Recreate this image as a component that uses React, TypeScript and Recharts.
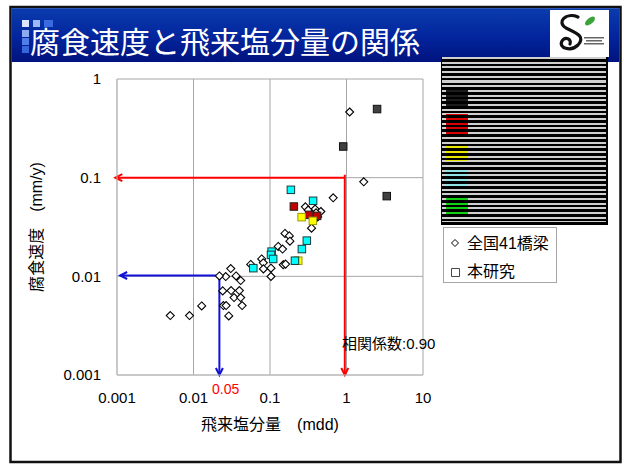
import React from 'react';
import { ScatterChart, Scatter, XAxis, YAxis, CartesianGrid, ReferenceLine, Legend } from 'recharts';

const titleText = '腐食速度と飛来塩分量の関係';
const xAxisTitle = '飛来塩分量　(mdd)';
const yAxisTitle = '腐食速度　(mm/y)';
const xTicks = [0.001, 0.01, 0.1, 1, 10];
const yTicks = [0.001, 0.01, 0.1, 1];
const legendLabels = ['全国41橋梁', '本研究'];
const correlationText = '相関係数:0.90';
const markText = '0.05';

// 全国41橋梁 (diamonds)
const nationalBridges = [
  { x: 1.1, y: 0.463 }, { x: 1.68, y: 0.0908 }, { x: 0.67, y: 0.0625 }, { x: 0.29, y: 0.0507 },
  { x: 0.389, y: 0.048 }, { x: 0.462, y: 0.0454 }, { x: 0.315, y: 0.0469 }, { x: 0.4, y: 0.044 },
  { x: 0.36, y: 0.042 }, { x: 0.42, y: 0.04 }, { x: 0.349, y: 0.0308 }, { x: 0.157, y: 0.0272 },
  { x: 0.179, y: 0.0257 }, { x: 0.182, y: 0.0227 }, { x: 0.128, y: 0.0201 }, { x: 0.146, y: 0.0189 },
  { x: 0.0778, y: 0.015 }, { x: 0.0818, y: 0.0137 }, { x: 0.056, y: 0.0132 }, { x: 0.082, y: 0.0119 },
  { x: 0.103, y: 0.0121 }, { x: 0.103, y: 0.00996 }, { x: 0.149, y: 0.0131 }, { x: 0.16, y: 0.0133 },
  { x: 0.0307, y: 0.012 }, { x: 0.0264, y: 0.00995 }, { x: 0.0218, y: 0.0101 }, { x: 0.036, y: 0.0101 },
  { x: 0.0414, y: 0.00906 }, { x: 0.0241, y: 0.00712 }, { x: 0.031, y: 0.00718 }, { x: 0.0398, y: 0.00718 },
  { x: 0.0339, y: 0.0061 }, { x: 0.0414, y: 0.0061 }, { x: 0.0246, y: 0.00506 }, { x: 0.0267, y: 0.00506 },
  { x: 0.0432, y: 0.00506 }, { x: 0.0289, y: 0.00397 }, { x: 0.0128, y: 0.00501 }, { x: 0.00887, y: 0.004 },
  { x: 0.00497, y: 0.004 },
];

// 本研究 (squares)
const studyDark = [{ x: 2.51, y: 0.496 }, { x: 0.906, y: 0.207 }, { x: 3.36, y: 0.065 }];
const studyRed = [{ x: 0.205, y: 0.051 }, { x: 0.325, y: 0.042 }, { x: 0.413, y: 0.041 }];
const studyYellow = [{ x: 0.259, y: 0.0398 }, { x: 0.363, y: 0.0365 }, { x: 0.234, y: 0.0144 }];
const studyCyan = [
  { x: 0.1875, y: 0.0753 }, { x: 0.366, y: 0.0583 }, { x: 0.303, y: 0.023 }, { x: 0.261, y: 0.0189 },
  { x: 0.105, y: 0.0178 }, { x: 0.103, y: 0.0165 }, { x: 0.11, y: 0.015 }, { x: 0.212, y: 0.0144 },
  { x: 0.0605, y: 0.0121 },
];

// arrows
const redVertical = [{ x: 0.95, y: 0.107 }, { x: 0.95, y: 0.001 }];
const redHorizontal = [{ x: 0.95, y: 0.1 }, { x: 0.00095, y: 0.1 }];
const blueVertical = [{ x: 0.0218, y: 0.0102 }, { x: 0.0218, y: 0.001 }];
const blueHorizontal = [{ x: 0.0218, y: 0.0102 }, { x: 0.0011, y: 0.0102 }];

const swatches = [
  { color: '#1c1c1c', top: 33, h: 18 },
  { color: '#d80000', top: 57, h: 21 },
  { color: '#e6e600', top: 87, h: 17 },
  { color: '#8ee4e4', top: 111, h: 20 },
  { color: '#12d012', top: 138, h: 19 },
];

const FONT = '"Liberation Sans", "Noto Sans CJK JP", sans-serif';
const stripe = (c: string) =>
  `repeating-linear-gradient(to bottom, ${c} 0px, ${c} 2px, #000 2px, #000 4.7px)`;

const Diamond = (props: any) => {
  const { cx, cy } = props;
  if (cx == null || cy == null) return null;
  const r = 4;
  return (
    <polygon
      points={`${cx},${cy - r} ${cx + r},${cy} ${cx},${cy + r} ${cx - r},${cy}`}
      fill="#fff"
      stroke="#000"
      strokeWidth={1.1}
    />
  );
};

const makeSquare = (fill: string, stroke: string) => (props: any) => {
  const { cx, cy } = props;
  if (cx == null || cy == null) return null;
  const s = 7.5;
  return <rect x={cx - s / 2} y={cy - s / 2} width={s} height={s} fill={fill} stroke={stroke} strokeWidth={1} />;
};

const arrowShape = (color: string) => (props: any) => {
  const x1 = Number(props.x1), y1 = Number(props.y1), x2 = Number(props.x2), y2 = Number(props.y2);
  if (![x1, y1, x2, y2].every((v) => isFinite(v))) return null;
  const dx = x2 - x1, dy = y2 - y1;
  const len = Math.hypot(dx, dy) || 1;
  const ux = dx / len, uy = dy / len;
  const back = 7, half = 3.5;
  const bx = x2 - ux * back, by = y2 - uy * back;
  const px = -uy, py = ux;
  return (
    <g>
      <line x1={x1} y1={y1} x2={x2} y2={y2} stroke={color} strokeWidth={2} />
      <polyline
        points={`${bx + px * half},${by + py * half} ${x2},${y2} ${bx - px * half},${by - py * half}`}
        fill="none"
        stroke={color}
        strokeWidth={2}
      />
    </g>
  );
};

const XLabel = (props: any) => {
  const vb = props.viewBox || { x: 117, y: 375, width: 306, height: 30 };
  return (
    <text x={vb.x + vb.width / 2} y={vb.y + vb.height + 25} textAnchor="middle" fontSize={16} fontFamily={FONT} fill="#000">
      {xAxisTitle}
    </text>
  );
};

const YLabel = (props: any) => {
  const vb = props.viewBox || { x: 57, y: 79, width: 60, height: 296 };
  const cx = vb.x - 21;
  const cy = vb.y + vb.height / 2;
  return (
    <text
      x={cx}
      y={cy}
      transform={`rotate(-90 ${cx} ${cy})`}
      textAnchor="middle"
      dominantBaseline="central"
      fontSize={16}
      fontFamily={FONT}
      fill="#000"
    >
      {yAxisTitle}
    </text>
  );
};

const LegendBox = () => (
  <div
    style={{
      width: 114,
      height: 56,
      boxSizing: 'border-box',
      border: '1px solid #a6a6a6',
      background: '#fff',
      fontFamily: FONT,
      fontSize: 16,
      color: '#000',
      position: 'relative',
    }}
  >
    <svg width={114} height={56} style={{ position: 'absolute', left: -1, top: -1 }}>
      <polygon points="12,12.5 15.5,16 12,19.5 8.5,16" fill="#fff" stroke="#000" strokeWidth={1} />
      <path d="M8.5 41.5 H16.5 V49.5 H8.5 Z" fill="#ffffff" stroke="#333" strokeWidth={0.9} />
    </svg>
    <div style={{ position: 'absolute', left: 23, top: 6, lineHeight: '20px', whiteSpace: 'nowrap' }}>{legendLabels[0]}</div>
    <div style={{ position: 'absolute', left: 23, top: 34, lineHeight: '20px', whiteSpace: 'nowrap' }}>{legendLabels[1]}</div>
  </div>
);

export default function App() {
  return (
    <div style={{ position: 'absolute', left: 0, top: 0, width: 624, height: 464, background: '#fff', overflow: 'hidden' }}>
      <svg width={624} height={464} style={{ position: 'absolute', left: 0, top: 0 }}>
        <defs>
          <linearGradient id="hdr" x1="0" y1="0" x2="0" y2="1">
            <stop offset="0%" stopColor="#0a3cae" />
            <stop offset="55%" stopColor="#03249c" />
            <stop offset="100%" stopColor="#00137e" />
          </linearGradient>
        </defs>
        <rect x={10.5} y={7} width={610} height={455} fill="#fff" stroke="#111" strokeWidth={2.5} />
        <rect x={11.7} y={8.2} width={607.6} height={53.8} fill="url(#hdr)" />
        <rect x={550} y={10} width={59} height={47} fill="#fff" />
        <path d="M578 17 C566 12 556 22 566 28 C576 33 586 36 578 45 C571 52 558 48 562 41 C565 36 572 39 570 44"
          fill="none" stroke="#111" strokeWidth={3.2} strokeLinecap="round" />
        <ellipse cx={590} cy={21} rx={6} ry={3} transform="rotate(-40 590 21)" fill="#3aa33a" />
        <rect x={584} y={37} width={20} height={1.5} fill="#666" />
        <rect x={586} y={40} width={16} height={1.5} fill="#666" />
        <rect x={584} y={43} width={20} height={1.5} fill="#666" />
        <rect x={22} y={20} width={7} height={7} fill="#dce6ff" />
        <rect x={33} y={20} width={7} height={7} fill="#9fb7f2" />
        <rect x={44} y={20} width={9} height={7} fill="#3a6ae0" />
        <rect x={22} y={30} width={7} height={7} fill="#8eaaf0" />
        <rect x={22} y={38} width={7} height={7} fill="#4f7fe6" />
        <rect x={22} y={46} width={7} height={7} fill="#3566dc" />
        <text x={30} y={53} fontSize={30} fill="#fff" fontFamily='"Noto Sans CJK JP", sans-serif'>
          {titleText}
        </text>
      </svg>

      <div style={{ position: 'absolute', left: 0, top: 0 }}>
        <ScatterChart width={624} height={464} margin={{ top: 79, right: 201, bottom: 59, left: 57 }}>
          <CartesianGrid stroke="#a6a6a6" strokeWidth={1} />
          <XAxis
            type="number"
            dataKey="x"
            scale="log"
            domain={[0.001, 10]}
            ticks={xTicks}
            interval={0}
            allowDataOverflow
            height={30}
            tickSize={0}
            tickMargin={17}
            tickLine={false}
            axisLine={{ stroke: '#bfbfbf' }}
            tick={{ fill: '#000', fontSize: 15, fontFamily: FONT }}
            label={XLabel}
          />
          <YAxis
            type="number"
            dataKey="y"
            scale="log"
            domain={[0.001, 1]}
            ticks={yTicks}
            interval={0}
            allowDataOverflow
            width={60}
            tickSize={0}
            tickMargin={16}
            tickLine={false}
            axisLine={{ stroke: '#bfbfbf' }}
            tick={{ fill: '#000', fontSize: 15, fontFamily: FONT }}
            label={YLabel}
          />
          <Scatter name={legendLabels[0]} data={nationalBridges} shape={Diamond} isAnimationActive={false} />
          <Scatter name={legendLabels[1]} data={studyDark} shape={makeSquare('#404040', '#111')} isAnimationActive={false} />
          <Scatter name={legendLabels[1]} data={studyRed} shape={makeSquare('#c00000', '#222')} isAnimationActive={false} />
          <Scatter name={legendLabels[1]} data={studyYellow} shape={makeSquare('#ffff00', '#9a9a00')} isAnimationActive={false} />
          <Scatter name={legendLabels[1]} data={studyCyan} shape={makeSquare('#00ffff', '#1a3a3a')} isAnimationActive={false} />
          <ReferenceLine segment={redVertical} ifOverflow="visible" shape={arrowShape('#ff0000')} />
          <ReferenceLine segment={redHorizontal} ifOverflow="visible" shape={arrowShape('#ff0000')} />
          <ReferenceLine segment={blueVertical} ifOverflow="visible" shape={arrowShape('#1010d8')} />
          <ReferenceLine segment={blueHorizontal} ifOverflow="visible" shape={arrowShape('#1010d8')} />
          <Legend
            layout="horizontal"
            verticalAlign="middle"
            align="center"
            content={LegendBox}
            wrapperStyle={{ left: 443, top: 227, width: 114, height: 56 }}
          />
        </ScatterChart>
      </div>

      <div style={{ position: 'absolute', left: 441, top: 57, width: 167, height: 168, background: '#000' }}>
        <div style={{ position: 'absolute', left: 1, right: 2, top: 0, bottom: 3, backgroundImage: stripe('#cfcfcf') }} />
        {swatches.map((s, i) => (
          <div
            key={i}
            style={{
              position: 'absolute',
              left: 5,
              top: s.top,
              width: 22,
              height: s.h,
              backgroundImage: stripe(s.color),
              backgroundPosition: `0 ${-s.top}px`,
              backgroundSize: '100% 168px',
            }}
          />
        ))}
      </div>

      <div style={{ position: 'absolute', left: 212, top: 381.5, fontFamily: FONT, fontSize: 14, lineHeight: '14px', color: '#ff0000' }}>
        {markText}
      </div>
      <div style={{ position: 'absolute', left: 342, top: 336, fontFamily: FONT, fontSize: 15, lineHeight: '15px', color: '#000', whiteSpace: 'nowrap' }}>
        {correlationText}
      </div>
    </div>
  );
}
